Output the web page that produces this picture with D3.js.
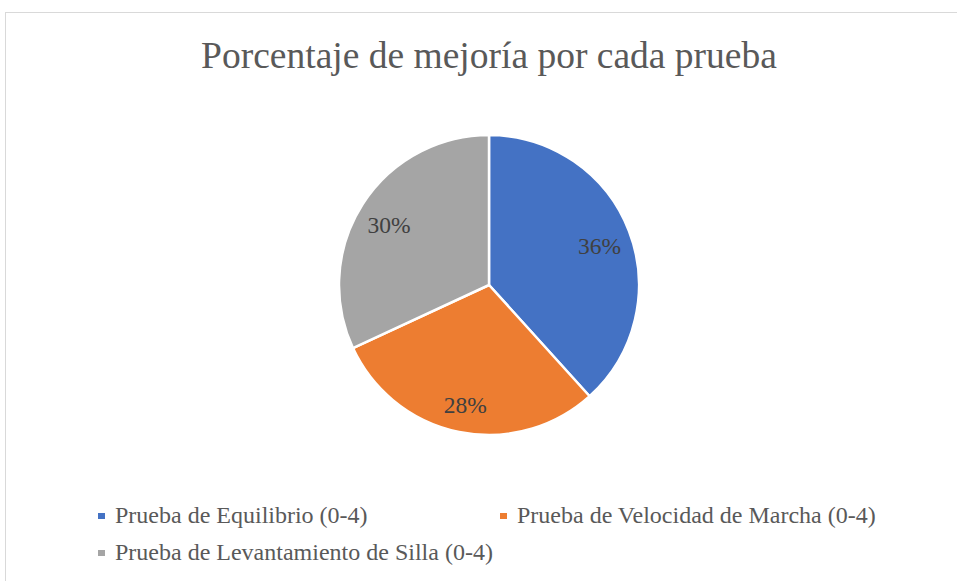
<!DOCTYPE html>
<html lang="es">
<head>
    <meta charset="UTF-8" />
    <script src="https://d3js.org/d3.v7.min.js"></script>
    <title>Porcentaje de mejoría</title>
    <style>
        body {
            margin: 0;
            overflow: hidden;
            background: white;
        }
    </style>
</head>
<body>
    <script>
        // chart values
        const categories = [
            "Prueba de Equilibrio (0-4)",
            "Prueba de Velocidad de Marcha (0-4)",
            "Prueba de Levantamiento de Silla (0-4)"
        ];
        const values = [0.36, 0.28, 0.30];
        const colors = ["#4472C4", "#ED7D31", "#A5A5A5"];
        const title = "Porcentaje de mejoría por cada prueba";

        const width = 957;
        const height = 581;
        const serif = "'Liberation Serif', 'Times New Roman', Tinos, 'DejaVu Serif', serif";

        const svg = d3.select("body")
            .append("svg")
            .attr("width", width)
            .attr("height", height)
            .style("font-family", serif);

        // chart area border
        svg.append("rect")
            .attr("x", 5.5)
            .attr("y", 12.5)
            .attr("width", width)
            .attr("height", height)
            .attr("fill", "white")
            .attr("stroke", "#D9D9D9");

        svg.append("text")
            .attr("x", 489)
            .attr("y", 68)
            .attr("text-anchor", "middle")
            .attr("font-family", serif)
            .attr("font-size", 37.5)
            .attr("fill", "#595959")
            .text(title);

        const cx = 489, cy = 285, r = 150;

        const pie = d3.pie().sort(null).value(d => d);
        const arcs = pie(values);

        const arc = d3.arc().innerRadius(0).outerRadius(r);
        const labelArc = d3.arc().innerRadius(r * 0.79).outerRadius(r * 0.79);

        const g = svg.append("g")
            .attr("transform", `translate(${cx},${cy})`);

        g.selectAll("path")
            .data(arcs)
            .join("path")
            .attr("d", arc)
            .attr("fill", (d, i) => colors[i])
            .attr("stroke", "white")
            .attr("stroke-width", 2.5)
            .attr("stroke-linejoin", "round");

        const fmt = d3.format(".0%");
        g.selectAll("text.lbl")
            .data(arcs)
            .join("text")
            .attr("class", "lbl")
            .attr("transform", d => `translate(${labelArc.centroid(d)})`)
            .attr("text-anchor", "middle")
            .attr("dy", "0.5em")
            .attr("font-family", serif)
            .attr("font-size", 23.5)
            .attr("fill", "#404040")
            .text(d => fmt(d.data));

        // legend
        const legendPos = [[98, 523], [500, 523], [98, 560]];
        const legend = svg.selectAll("g.legend")
            .data(categories)
            .join("g")
            .attr("class", "legend")
            .attr("transform", (d, i) => `translate(${legendPos[i][0]},${legendPos[i][1]})`);

        legend.append("rect")
            .attr("x", 0)
            .attr("y", -10)
            .attr("width", 7)
            .attr("height", 6)
            .attr("fill", (d, i) => colors[i]);

        legend.append("text")
            .attr("x", 17)
            .attr("y", 0)
            .attr("font-family", serif)
            .attr("font-size", 24)
            .attr("fill", "#595959")
            .text(d => d);
    </script>
</body>
</html>
